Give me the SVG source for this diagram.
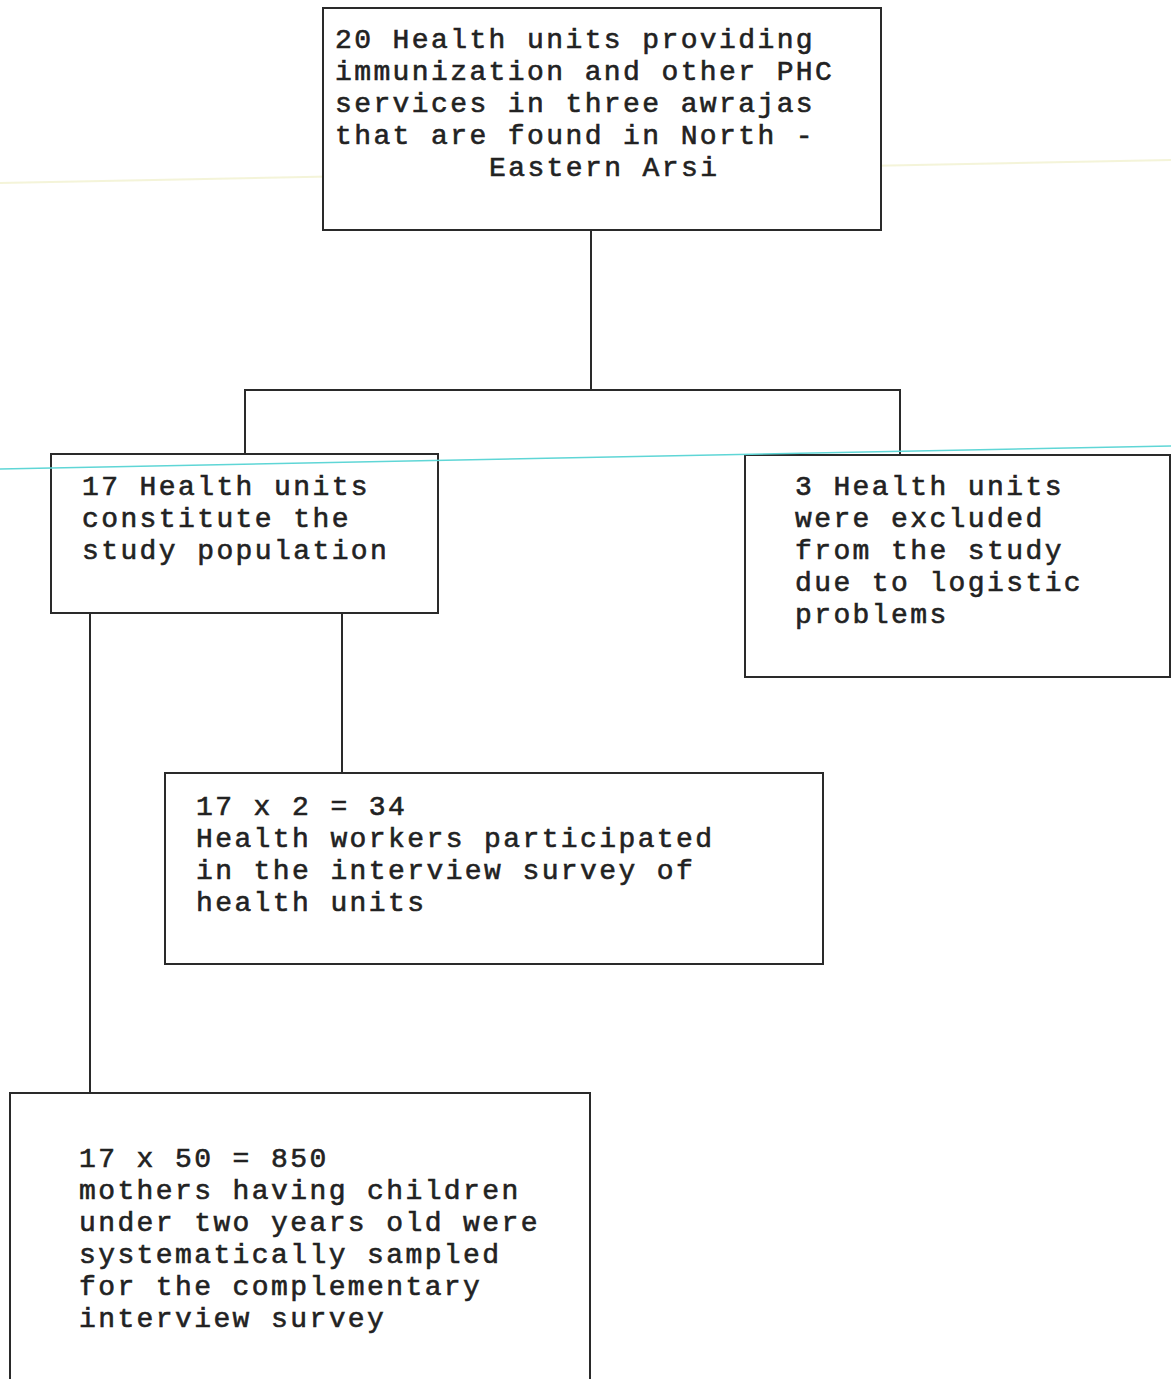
<svg xmlns="http://www.w3.org/2000/svg" width="1171" height="1379" viewBox="0 0 1171 1379">
<style>
.box{fill:#ffffff;stroke:#2a2a2a;stroke-width:2}
.ln{fill:none;stroke:#2a2a2a;stroke-width:2}
.t{font-family:"Liberation Mono","Courier New",monospace;font-size:28px;letter-spacing:2.4px;fill:#222;stroke:#222;stroke-width:0.6}
</style>
<rect width="1171" height="1379" fill="#ffffff"/>
<g id="scan-artifacts">
<line x1="0" y1="183" x2="1171" y2="160" stroke="#eeeec0" stroke-width="2" opacity="0.6"/>
</g>
<g id="connectors">
<line class="ln" x1="591" y1="230" x2="591" y2="390"/>
<polyline class="ln" points="245,454 245,390 900,390 900,455"/>
<line class="ln" x1="90" y1="613" x2="90" y2="1093"/>
<line class="ln" x1="342" y1="613" x2="342" y2="773"/>
</g>
<g id="node-top">
<rect class="box" x="323" y="8" width="558" height="222"/>
<text class="t" x="335" y="48">20 Health units providing</text>
<text class="t" x="335" y="80">immunization and other PHC</text>
<text class="t" x="335" y="112">services in three awrajas</text>
<text class="t" x="335" y="144">that are found in North -</text>
<text class="t" x="489" y="176">Eastern Arsi</text>
</g>
<g id="node-study">
<rect class="box" x="51" y="454" width="387" height="159"/>
<text class="t" x="82" y="495">17 Health units</text>
<text class="t" x="82" y="527">constitute the</text>
<text class="t" x="82" y="559">study population</text>
</g>
<g id="node-excluded">
<rect class="box" x="745" y="455" width="425" height="222"/>
<text class="t" x="795" y="495">3 Health units</text>
<text class="t" x="795" y="527">were excluded</text>
<text class="t" x="795" y="559">from the study</text>
<text class="t" x="795" y="591">due to logistic</text>
<text class="t" x="795" y="623">problems</text>
</g>
<g id="node-workers">
<rect class="box" x="165" y="773" width="658" height="191"/>
<text class="t" x="196" y="815">17 x 2 = 34</text>
<text class="t" x="196" y="847">Health workers participated</text>
<text class="t" x="196" y="879">in the interview survey of</text>
<text class="t" x="196" y="911">health units</text>
</g>
<g id="node-mothers">
<rect class="box" x="10" y="1093" width="580" height="300"/>
<text class="t" x="79" y="1167">17 x 50 = 850</text>
<text class="t" x="79" y="1199">mothers having children</text>
<text class="t" x="79" y="1231">under two years old were</text>
<text class="t" x="79" y="1263">systematically sampled</text>
<text class="t" x="79" y="1295">for the complementary</text>
<text class="t" x="79" y="1327">interview survey</text>
</g>
<g id="scan-artifacts-top">
<line x1="0" y1="469" x2="1171" y2="446" stroke="#5fd6d6" stroke-width="1.5"/>
</g>
</svg>
